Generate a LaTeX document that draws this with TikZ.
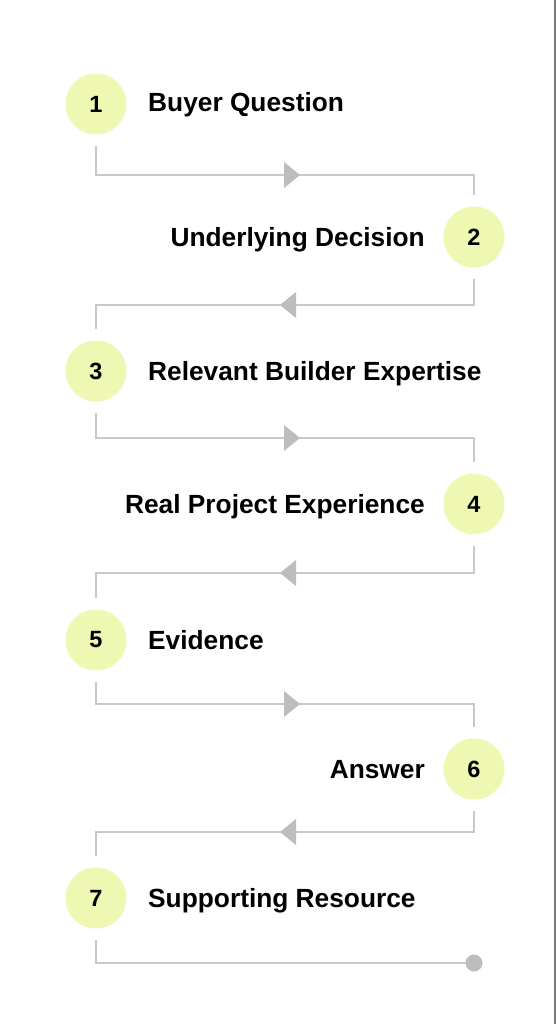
\documentclass[tikz,border=0pt]{standalone}
\usepackage{fontspec}
\setmainfont{Liberation Sans}
\definecolor{circfill}{HTML}{EEF8B3}
\definecolor{linec}{HTML}{C9C9C9}
\definecolor{arrowc}{HTML}{BDBDBD}
\definecolor{edgec}{HTML}{7A7A7A}
\begin{document}
\begin{tikzpicture}[x=1pt,y=-1pt,
  stepcirc/.style={circle,fill=circfill,minimum size=61pt,inner sep=0pt,font=\fontsize{23.5}{28}\selectfont\bfseries},
  lbl/.style={inner sep=0pt,font=\fontsize{26.3}{30}\selectfont\bfseries},
  conn/.style={draw=linec,line width=1.5pt},
  tip/.style={fill=arrowc}]
\useasboundingbox (0,0) rectangle (556,1024);
\fill[white] (0,0) rectangle (556,1024);
\draw[edgec,line width=1.5pt] (555.2,0) -- (555.2,1024);
% circles
\node[stepcirc] (c1) at (96,104) {1};
\node[stepcirc] (c2) at (474,237) {2};
\node[stepcirc] (c3) at (96,371) {3};
\node[stepcirc] (c4) at (474,504) {4};
\node[stepcirc] (c5) at (96,640) {5};
\node[stepcirc] (c6) at (474,769) {6};
\node[stepcirc] (c7) at (96,898) {7};
% labels
\node[lbl,anchor=base west] (l1) at (148,112) {Buyer Question};
\node[lbl,anchor=base east] (l2) at (425,246) {Underlying Decision};
\node[lbl,anchor=base west] (l3) at (148,380) {Relevant Builder Expertise};
\node[lbl,anchor=base east] (l4) at (425,513) {Real Project Experience};
\node[lbl,anchor=base west] (l5) at (148,649) {Evidence};
\node[lbl,anchor=base east] (l6) at (425,778) {Answer};
\node[lbl,anchor=base west] (l7) at (148,907) {Supporting Resource};
% corner levels
\coordinate (h1) at (284,175);
\coordinate (h2) at (296,305);
\coordinate (h3) at (284,438);
\coordinate (h4) at (296,573);
\coordinate (h5) at (284,704);
\coordinate (h6) at (296,832);
\coordinate (h7) at (474,963);
% connectors
\draw[conn] ([yshift=-11pt]c1.south) |- (h1) -| ([yshift=11pt]c2.north);
\draw[conn] ([yshift=-11pt]c2.south) |- (h2) -| ([yshift=11pt]c3.north);
\draw[conn] ([yshift=-11pt]c3.south) |- (h3) -| ([yshift=11pt]c4.north);
\draw[conn] ([yshift=-11pt]c4.south) |- (h4) -| ([yshift=11pt]c5.north);
\draw[conn] ([yshift=-11pt]c5.south) |- (h5) -| ([yshift=11pt]c6.north);
\draw[conn] ([yshift=-11pt]c6.south) |- (h6) -| ([yshift=11pt]c7.north);
\draw[conn] ([yshift=-11pt]c7.south) |- (h7);
% arrow tips
\fill[tip] (h1) ++(0,-13) -- ++(16,13) -- ++(-16,13) -- cycle;
\fill[tip] (h2) ++(0,-13) -- ++(-16,13) -- ++(16,13) -- cycle;
\fill[tip] (h3) ++(0,-13) -- ++(16,13) -- ++(-16,13) -- cycle;
\fill[tip] (h4) ++(0,-13) -- ++(-16,13) -- ++(16,13) -- cycle;
\fill[tip] (h5) ++(0,-13) -- ++(16,13) -- ++(-16,13) -- cycle;
\fill[tip] (h6) ++(0,-13) -- ++(-16,13) -- ++(16,13) -- cycle;
\fill[tip] (h7) circle (8.5);
\end{tikzpicture}
\end{document}
